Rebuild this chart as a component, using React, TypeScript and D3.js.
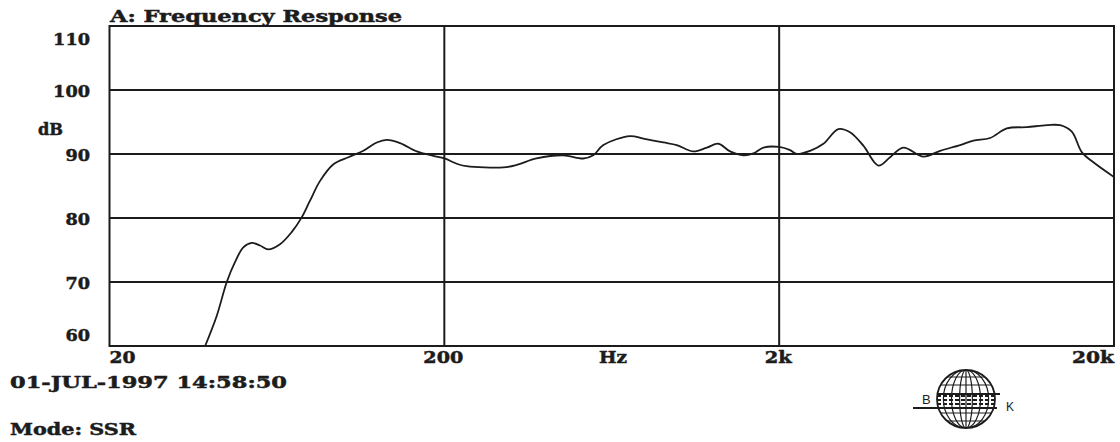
import React from "react";
import * as d3 from "d3";

const freqHz = [
  38.6, 41.8, 44.8, 47.4, 50.2, 53.2, 56.3, 59.6, 64.6, 70, 75, 79.4, 85.1, 93.3,
  103.4, 114.6, 125.7, 134.6, 147.5, 165.5, 185.4, 200, 220, 233, 300, 329, 377,
  453, 520, 557, 597, 717, 786, 902, 989, 1109, 1216, 1317, 1427, 1564, 1675,
  1795, 2000, 2157, 2257, 2474, 2711, 3005, 3256, 3568, 3956, 4289, 4699, 5393,
  6050, 6941, 7606, 8530, 9569, 10982, 12603, 13806, 14962, 16026, 17360, 20000,
];
const levelDb = [
  60, 64.7, 70, 73.1, 75.4, 76.1, 75.7, 75.1, 75.9, 77.8, 80.1, 82.7, 85.8, 88.4,
  89.5, 90.5, 91.8, 92.2, 91.7, 90.4, 89.7, 89.3, 88.4, 88.1, 87.9, 88.3, 89.3,
  89.8, 89.3, 89.8, 91.4, 92.8, 92.4, 91.8, 91.4, 90.4, 91.0, 91.6, 90.4, 89.8, 90.1,
  91.0, 91.1, 90.6, 90.0, 90.5, 91.6, 93.9, 93.4, 91.3, 88.2, 89.5, 91.0, 89.6,
  90.5, 91.4, 92.1, 92.5, 94.0, 94.2, 94.5, 94.5, 93.5, 90.3, 88.7, 86.4,
];

const yTicks = [110, 100, 90, 80, 70, 60];
const yGrid = [100, 90, 80, 70];
const xGrid = [200, 2000];
const xTickValues = [20, 200, 2000, 20000];
const xTickLabels = ["20", "200", "2k", "20k"];

const FONT = "'DejaVu Serif', 'Liberation Serif', serif";
const INK = "#1c1c1c";

export default function App() {
  const W = 1120;
  const H = 442;
  const x = d3.scaleLog().domain([20, 20000]).range([109.5, 1114]);
  const y = d3.scaleLinear().domain([60, 110]).range([346, 26]);

  const pts: [number, number][] = freqHz.map((f, i) => [f, levelDb[i]]);
  const line = d3
    .line<[number, number]>()
    .x((d) => x(d[0]))
    .y((d) => y(d[1]))
    .curve(d3.curveCatmullRom.alpha(0.5));

  const yLabelY = (v: number) => {
    if (v === 110) return y(v) + 14;
    if (v === 60) return y(v) - 10;
    return y(v) + 2;
  };

  const xLabelProps = (v: number, i: number) => {
    if (i === 0) return { x: x(v), anchor: "start" as const, len: 26 };
    if (i === xTickValues.length - 1) return { x: x(v), anchor: "end" as const, len: 42 };
    const len = xTickLabels[i].length === 3 ? 40 : 27;
    return { x: x(v) - 1, anchor: "middle" as const, len };
  };

  const txt = {
    fontFamily: FONT,
    fontWeight: "bold" as const,
    fontSize: 17,
    fill: INK,
    stroke: INK,
    strokeWidth: 0.5,
    lengthAdjust: "spacingAndGlyphs" as const,
  };

  // logo geometry
  const gx = 966;
  const gy = 399;
  const gr = 29;
  const meridians = [0.22, 0.5, 0.78];
  const latitudes = [-22, -14, 14, 22];
  const bandRows = [-3, 1, 5];

  return (
    <svg width={W} height={H} style={{ display: "block", position: "absolute", left: 0, top: 0 }}>
      <rect x={0} y={0} width={W} height={H} fill="#fff" />
      <defs>
        <clipPath id="plotClip">
          <rect x={x(20)} y={y(110)} width={x(20000) - x(20)} height={y(60) - y(110)} />
        </clipPath>
        <clipPath id="globeClip">
          <circle cx={gx} cy={gy} r={gr} />
        </clipPath>
      </defs>

      {/* grid */}
      {yGrid.map((v) => (
        <line key={"gy" + v} x1={x(20)} x2={x(20000)} y1={y(v)} y2={y(v)} stroke={INK} strokeWidth={2} />
      ))}
      {xGrid.map((v) => (
        <line key={"gx" + v} x1={x(v)} x2={x(v)} y1={y(110)} y2={y(60)} stroke={INK} strokeWidth={2} />
      ))}
      <rect
        x={x(20)}
        y={y(110)}
        width={x(20000) - x(20)}
        height={y(60) - y(110)}
        fill="none"
        stroke={INK}
        strokeWidth={2}
      />

      {/* curve */}
      <path d={line(pts) || ""} fill="none" stroke={INK} strokeWidth={1.8} clipPath="url(#plotClip)" />

      {/* title */}
      <text x={110} y={22} {...txt} textLength={292}>
        A: Frequency Response
      </text>

      {/* y labels */}
      {yTicks.map((v) => (
        <text
          key={"yl" + v}
          x={90}
          y={yLabelY(v)}
          textAnchor="end"
          dominantBaseline="middle"
          {...txt}
          textLength={String(v).length * 12.3}
        >
          {v}
        </text>
      ))}
      <text x={38} y={135} {...txt} textLength={25}>
        dB
      </text>

      {/* x labels */}
      {xTickValues.map((v, i) => {
        const p = xLabelProps(v, i);
        return (
          <text key={"xl" + v} x={p.x} y={363} textAnchor={p.anchor} {...txt} textLength={p.len}>
            {xTickLabels[i]}
          </text>
        );
      })}
      <text x={599} y={363} {...txt} textLength={28}>
        Hz
      </text>

      {/* footer */}
      <text x={10} y={388} {...txt} textLength={277}>
        01-JUL-1997 14:58:50
      </text>
      <text x={10} y={435} {...txt} textLength={126}>
        Mode: SSR
      </text>

      {/* B&K logo */}
      <g stroke={INK} fill="none">
        <circle cx={gx} cy={gy} r={gr} strokeWidth={1.8} />
        <g clipPath="url(#globeClip)" strokeWidth={1.2}>
          {meridians.map((k) => (
            <ellipse key={"m" + k} cx={gx} cy={gy} rx={gr * k} ry={gr} />
          ))}
          <line x1={gx} x2={gx} y1={gy - gr} y2={gy + gr} />
          {latitudes.map((o) => (
            <line key={"l" + o} x1={gx - gr} x2={gx + gr} y1={gy + o} y2={gy + o} />
          ))}
          {bandRows.map((o) => (
            <line
              key={"b" + o}
              x1={gx - gr}
              x2={gx + gr}
              y1={gy + o}
              y2={gy + o}
              strokeWidth={2}
              strokeDasharray="4 2"
            />
          ))}
        </g>
        <line x1={937} x2={1000} y1={394} y2={394} strokeWidth={2} />
        <line x1={913} x2={997} y1={408} y2={408} strokeWidth={2} />
      </g>
      <text x={922} y={404} fontFamily="'Liberation Sans', Arial, sans-serif" fontSize={13} fill={INK}>
        B
      </text>
      <text x={1006} y={411} fontFamily="'Liberation Sans', Arial, sans-serif" fontSize={12} fill={INK}>
        K
      </text>
    </svg>
  );
}
